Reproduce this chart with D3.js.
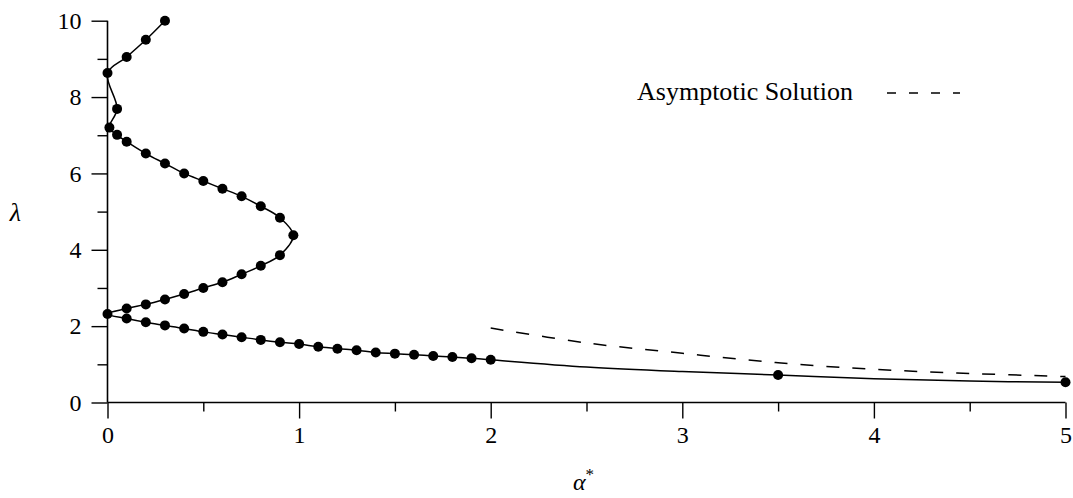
<!DOCTYPE html>
<html>
<head>
<meta charset="utf-8">
<script src="https://cdn.jsdelivr.net/npm/d3@7/dist/d3.min.js"></script>
<style>
  html, body { margin: 0; padding: 0; background: #fff; }
  svg { display: block; }
  text { font-family: "Liberation Serif", "DejaVu Serif", serif; fill: #000; }
</style>
</head>
<body>
<svg id="chart" width="1073" height="498"></svg>
<script>
// ---- Data ----
// computed solution points (drawn as dots), in path order
const solutionAlpha = [0.3, 0.2, 0.1, 0.0, 0.05, 0.01, 0.05, 0.1, 0.2, 0.3, 0.4, 0.5, 0.6, 0.7, 0.8, 0.9, 0.97,
  0.9, 0.8, 0.7, 0.6, 0.5, 0.4, 0.3, 0.2, 0.1, 0.0,
  0.1, 0.2, 0.3, 0.4, 0.5, 0.6, 0.7, 0.8, 0.9, 1.0, 1.1, 1.2, 1.3, 1.4, 1.5, 1.6, 1.7, 1.8, 1.9, 2.0, 3.5, 5.0];
const solutionLambda = [10.0, 9.5, 9.05, 8.63, 7.69, 7.2, 7.01, 6.83, 6.52, 6.26, 6.0, 5.8, 5.6, 5.4, 5.14, 4.84, 4.38,
  3.86, 3.58, 3.36, 3.15, 3.0, 2.84, 2.70, 2.57, 2.46, 2.32,
  2.2, 2.1, 2.02, 1.94, 1.85, 1.78, 1.71, 1.64, 1.58, 1.53, 1.46, 1.41, 1.37, 1.31, 1.28, 1.25, 1.22, 1.19, 1.16, 1.12, 0.72, 0.53];
// extra nodes of the drawn curve between the sparse points (no dots)
const curveExtraAlpha = [2.5, 3.0, 4.0, 4.5];
const curveExtraLambda = [0.93, 0.81, 0.62, 0.56];
// asymptotic solution (dashed)
const asymAlpha = [2.0, 2.5, 3.0, 3.5, 4.0, 4.5, 5.0];
const asymLambda = [1.95, 1.56, 1.29, 1.04, 0.87, 0.76, 0.68];
// axes
const xMajorTicks = [0, 1, 2, 3, 4, 5];
const xMinorTicks = [0.5, 1.5, 2.5, 3.5, 4.5];
const yMajorTicks = [0, 2, 4, 6, 8, 10];
const yMinorTicks = [1, 3, 5, 7, 9];
const legendLabel = "Asymptotic Solution";

// ---- Chart ----
const svg = d3.select("#chart");
const x = d3.scaleLinear().domain([0, 5]).range([107.5, 1065.5]);
const y = d3.scaleLinear().domain([0, 10]).range([402.5, 20.7]);

// axes
const xAxisMajor = d3.axisBottom(x).tickValues(xMajorTicks).tickSize(16).tickPadding(7).tickFormat(d3.format("d"));
const xAxisMinor = d3.axisBottom(x).tickValues(xMinorTicks).tickSize(9).tickFormat("");
const yAxisMajor = d3.axisLeft(y).tickValues(yMajorTicks).tickSize(16).tickPadding(10).tickFormat(d3.format("d"));
const yAxisMinor = d3.axisLeft(y).tickValues(yMinorTicks).tickSize(10).tickFormat("");

function styleAxis(g) {
  g.select(".domain").remove();
  g.selectAll("line").attr("stroke", "#000").attr("stroke-width", 1.4);
  g.selectAll("text").attr("font-size", 24).attr("font-family", "Liberation Serif, serif");
}
svg.append("g").attr("transform", `translate(0,${y(0)})`).call(xAxisMajor).call(styleAxis);
svg.append("g").attr("transform", `translate(0,${y(0)})`).call(xAxisMinor).call(styleAxis);
svg.append("g").attr("transform", `translate(${x(0)},0)`).call(yAxisMajor).call(styleAxis);
svg.append("g").attr("transform", `translate(${x(0)},0)`).call(yAxisMinor).call(styleAxis);
// axis lines
svg.append("line").attr("x1", x(0)).attr("x2", x(5)).attr("y1", y(0)).attr("y2", y(0))
  .attr("stroke", "#000").attr("stroke-width", 1.6);
svg.append("line").attr("x1", x(0)).attr("x2", x(0)).attr("y1", y(0)).attr("y2", y(10))
  .attr("stroke", "#000").attr("stroke-width", 1.6);

// solution curve
const solPts = solutionAlpha.map((a, i) => [a, solutionLambda[i]]);
const extraPts = curveExtraAlpha.map((a, i) => [a, curveExtraLambda[i]]);
const iTwo = solPts.findIndex(p => p[0] === 2.0);
const curvePts = solPts.slice(0, iTwo + 1)
  .concat(extraPts.filter(p => p[0] < 3.5), [solPts[iTwo + 1]], extraPts.filter(p => p[0] > 3.5), solPts.slice(iTwo + 2));
const line = d3.line().x(d => x(d[0])).y(d => y(d[1])).curve(d3.curveCatmullRom.alpha(0.5));
svg.append("path").attr("d", line(curvePts)).attr("fill", "none").attr("stroke", "#000").attr("stroke-width", 1.5);

svg.append("g").selectAll("circle").data(solPts).join("circle")
  .attr("cx", d => x(d[0])).attr("cy", d => y(d[1])).attr("r", 5).attr("fill", "#000");

// asymptotic dashed curve
const asymPts = asymAlpha.map((a, i) => [a, asymLambda[i]]);
svg.append("path").attr("d", line(asymPts)).attr("fill", "none").attr("stroke", "#000")
  .attr("stroke-width", 1.5).attr("stroke-dasharray", "13,13");

// legend
svg.append("text").attr("x", 853).attr("y", 100).attr("text-anchor", "end").attr("font-size", 26).text(legendLabel);
svg.append("line").attr("x1", 887).attr("x2", 960).attr("y1", 93).attr("y2", 93)
  .attr("stroke", "#000").attr("stroke-width", 1.5).attr("stroke-dasharray", "9,13");

// axis titles
svg.append("text").attr("x", 15.5).attr("y", 221).attr("text-anchor", "middle")
  .attr("font-size", 26).attr("font-style", "italic").attr("font-family", "DejaVu Serif, serif").text("λ");
const at = svg.append("text").attr("x", 573).attr("y", 490).attr("font-size", 24)
  .attr("font-family", "DejaVu Serif, serif");
at.append("tspan").attr("font-style", "italic").text("α");
at.append("tspan").attr("dy", -10).attr("font-size", 17).text("*");
</script>
</body>
</html>
